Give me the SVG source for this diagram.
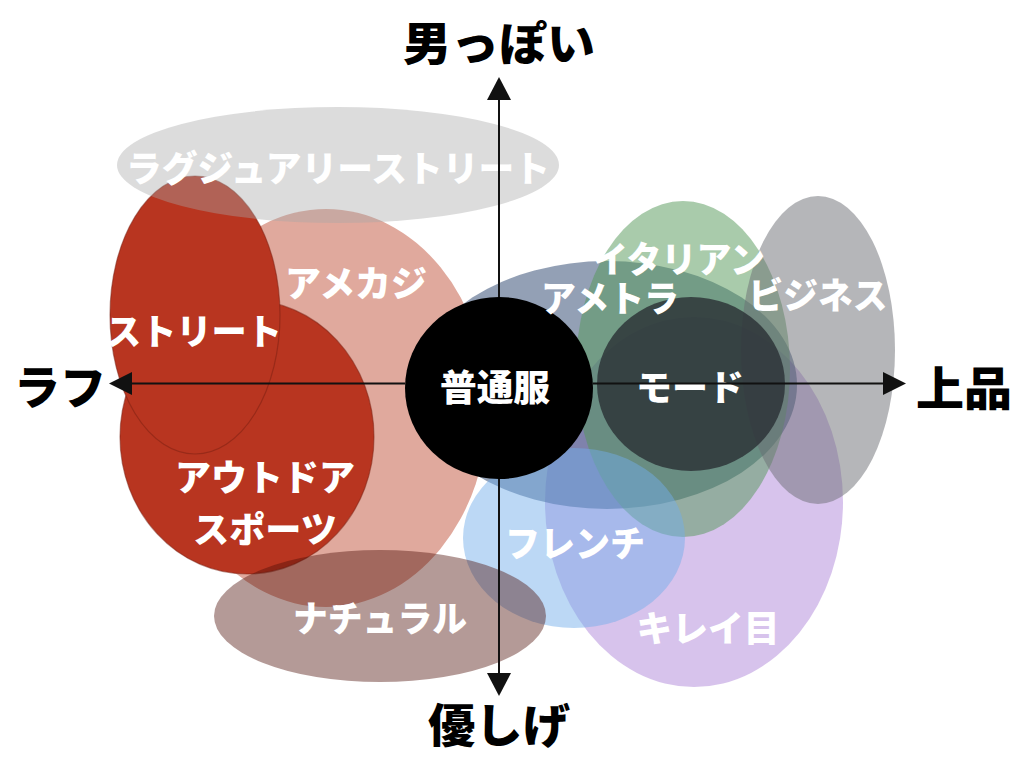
<svg xmlns="http://www.w3.org/2000/svg" width="1024" height="768" viewBox="0 0 1024 768">
<defs>
<style>
.lbl{font-family:"Noto Sans CJK JP","Noto Sans CJK SC",sans-serif;font-weight:900;fill:#ffffff;font-size:36px;text-anchor:middle;dominant-baseline:central;}
.ax{font-family:"Noto Sans CJK JP","Noto Sans CJK SC",sans-serif;font-weight:900;fill:#000000;font-size:46px;text-anchor:middle;dominant-baseline:central;}
.axis{stroke:#111;stroke-width:2;fill:none;}
.head{fill:#111;}
.red{fill:#b83520;stroke:#7a2012;stroke-opacity:0.5;stroke-width:1.2;}
</style>
</defs>
<rect x="0" y="0" width="1024" height="768" fill="#ffffff"/>

<g id="node-amekaji"><ellipse cx="326" cy="408" rx="162" ry="199" fill="#e0a99d"/></g>
<g id="node-outdoor"><ellipse class="red" cx="247" cy="437" rx="127" ry="137"/></g>
<g id="node-street"><ellipse class="red" cx="195" cy="315" rx="85" ry="139"/></g>
<g id="node-luxury"><ellipse cx="338" cy="165" rx="221" ry="58" fill="#a8a8a8" fill-opacity="0.4"/></g>
<g id="node-kirei"><ellipse cx="694" cy="502" rx="149" ry="185" fill="#af87d9" fill-opacity="0.5"/></g>
<g id="node-ametora"><ellipse cx="607" cy="385" rx="190" ry="124" fill="#28416c" fill-opacity="0.5"/></g>
<g id="node-italian"><ellipse cx="683" cy="369" rx="107" ry="168" fill="#539757" fill-opacity="0.5"/></g>
<g id="node-french"><ellipse cx="574" cy="538" rx="111" ry="90" fill="#74adea" fill-opacity="0.48"/></g>
<g id="node-natural"><ellipse cx="380" cy="616" rx="166" ry="66" fill="#4c0e07" fill-opacity="0.42"/></g>
<g id="node-business"><ellipse cx="818" cy="350" rx="77" ry="154" fill="#6b6d73" fill-opacity="0.5"/></g>
<g id="node-mode"><ellipse cx="691" cy="384" rx="94" ry="87" fill="#282d32" fill-opacity="0.78"/></g>
<g id="node-normal"><ellipse cx="499" cy="388" rx="94" ry="91" fill="#000000"/></g>

<g id="labels">
<text id="label-luxury" class="lbl" x="338" y="166" textLength="424" lengthAdjust="spacingAndGlyphs">ラグジュアリーストリート</text>
<text id="label-amekaji" class="lbl" x="356" y="281" textLength="142" lengthAdjust="spacingAndGlyphs">アメカジ</text>
<text id="label-street" class="lbl" x="194" y="329" textLength="176" lengthAdjust="spacingAndGlyphs">ストリート</text>
<text id="label-outdoor1" class="lbl" x="265" y="475" textLength="180" lengthAdjust="spacingAndGlyphs">アウトドア</text>
<text id="label-outdoor2" class="lbl" x="265" y="527" textLength="144" lengthAdjust="spacingAndGlyphs">スポーツ</text>
<text id="label-natural" class="lbl" x="380" y="616" textLength="174" lengthAdjust="spacingAndGlyphs">ナチュラル</text>
<text id="label-normal" class="lbl" x="495" y="385" textLength="110" lengthAdjust="spacingAndGlyphs">普通服</text>
<text id="label-italian" class="lbl" x="679" y="257" textLength="172" lengthAdjust="spacingAndGlyphs">イタリアン</text>
<text id="label-ametora" class="lbl" x="610" y="296" textLength="138" lengthAdjust="spacingAndGlyphs">アメトラ</text>
<text id="label-business" class="lbl" x="818" y="293" textLength="139" lengthAdjust="spacingAndGlyphs">ビジネス</text>
<text id="label-mode" class="lbl" x="690" y="385" textLength="108" lengthAdjust="spacingAndGlyphs">モード</text>
<text id="label-french" class="lbl" x="575" y="541" textLength="140" lengthAdjust="spacingAndGlyphs">フレンチ</text>
<text id="label-kirei" class="lbl" x="708" y="626" textLength="143" lengthAdjust="spacingAndGlyphs">キレイ目</text>
</g>

<g id="connectors">
<line class="axis" x1="499" y1="98" x2="499" y2="297"/>
<line class="axis" x1="499" y1="479" x2="499" y2="675"/>
<line class="axis" x1="131" y1="383.5" x2="405" y2="383.5"/>
<line class="axis" x1="593" y1="383.5" x2="885" y2="383.5"/>
<polygon class="head" points="499,77 487,100 511,100"/>
<polygon class="head" points="499,696 487,673 511,673"/>
<polygon class="head" points="109,383.5 132,372 132,395"/>
<polygon class="head" points="906,383.5 883,372 883,395"/>
</g>

<g id="axis-labels">
<text class="ax" x="499" y="40" textLength="192" lengthAdjust="spacingAndGlyphs">男っぽい</text>
<text class="ax" x="60" y="384" textLength="92" lengthAdjust="spacingAndGlyphs">ラフ</text>
<text class="ax" x="964" y="385" textLength="96" lengthAdjust="spacingAndGlyphs">上品</text>
<text class="ax" x="499" y="722" textLength="142" lengthAdjust="spacingAndGlyphs">優しげ</text>
</g>
</svg>
